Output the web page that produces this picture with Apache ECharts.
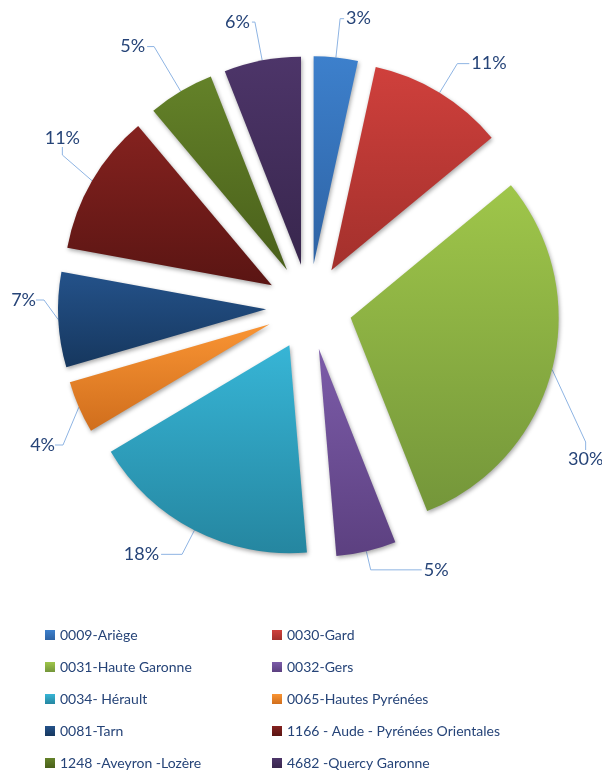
<!DOCTYPE html>
<html>
<head>
<meta charset="utf-8">
<style>
  html, body { margin: 0; padding: 0; background: #fff; }
  #chart { width: 602px; height: 771px; }
</style>
<script src="https://cdn.jsdelivr.net/npm/echarts@6/dist/echarts.min.js"></script>
</head>
<body>
<div id="chart"></div>
<script>
// sectors (share of the whole, in %)
const names = [
  '0009-Ariège', '0030-Gard', '0031-Haute Garonne', '0032-Gers', '0034- Hérault',
  '0065-Hautes Pyrénées', '0081-Tarn', '1166 - Aude - Pyrénées Orientales',
  '1248 -Aveyron -Lozère', '4682 -Quercy Garonne'
];
const values = [3.42, 10.58, 30.0, 4.65, 17.78, 4.06, 7.39, 11.0, 5.14, 5.97];

// gradient top / bottom colour of each slice
const topColors = ['#3d80cc', '#cf403c', '#9fc64a', '#7c5ca9', '#37b5d6', '#f99433', '#24528a', '#85221f', '#648229', '#4d3569'];
const bottomColors = ['#2e63a4', '#a3302c', '#74963a', '#5c4080', '#2586a0', '#d06e1d', '#16375e', '#5a1513', '#495f1a', '#38264d'];

const textColor = '#264478';

const CENTER = [309, 307];
const RADIUS = 208;
const EXPLODE = 43;

// leader line lengths [length, length2] per slice (label tuning)
const leader = {
  0: [39, 4], 1: [34, 12], 3: [19, 51], 4: [27, 21], 8: [52, 7], 9: [39, 3]
};
// labels that Excel moved off the radial line: [anchor x, centre y, align]
const movedLabels = {
  2: [568, 459, 'left'],
  5: [55, 445, 'right'],
  6: [36, 300, 'right'],
  7: [80, 138, 'right']
};

const chart = echarts.init(document.getElementById('chart'));

const sliceData = names.map((name, i) => ({
  name: name,
  value: values[i],
  selected: true,
  itemStyle: {
    color: new echarts.graphic.LinearGradient(0, 0, 0, 1, [
      { offset: 0, color: topColors[i] },
      { offset: 1, color: bottomColors[i] }
    ])
  }
}));

// invisible copy reaching the exploded outer edge, carries the labels
const labelData = names.map((name, i) => {
  const item = { name: name, value: values[i] };
  if (leader[i]) {
    item.labelLine = { length: leader[i][0], length2: leader[i][1] };
  }
  return item;
});

function legendFor(list, left) {
  return {
    data: list,
    orient: 'vertical',
    left: left,
    top: 627,
    height: 200,
    padding: 0,
    icon: 'rect',
    itemWidth: 10,
    itemHeight: 10,
    itemGap: 16,
    selectedMode: false,
    textStyle: {
      fontFamily: 'Lato',
      fontSize: 14,
      lineHeight: 16,
      color: textColor
    }
  };
}

chart.setOption({
  animation: false,
  legend: [
    legendFor(names.filter((n, i) => i % 2 === 0), 45),
    legendFor(names.filter((n, i) => i % 2 === 1), 272)
  ],
  series: [{
    type: 'pie',
    center: CENTER,
    radius: RADIUS,
    startAngle: 90,
    clockwise: true,
    selectedMode: 'multiple',
    selectedOffset: EXPLODE,
    emphasis: { disabled: true },
    itemStyle: {
      shadowBlur: 4,
      shadowOffsetX: 1,
      shadowOffsetY: 2,
      shadowColor: 'rgba(0,0,0,0.35)'
    },
    label: { show: false },
    labelLine: { show: false },
    data: sliceData
  }, {
    type: 'pie',
    center: CENTER,
    radius: RADIUS + EXPLODE,
    startAngle: 90,
    clockwise: true,
    silent: true,
    selectedMode: false,
    percentPrecision: 0,
    avoidLabelOverlap: false,
    emphasis: { disabled: true },
    itemStyle: { color: 'rgba(0,0,0,0)' },
    label: {
      show: true,
      position: 'outside',
      formatter: '{d}%',
      fontFamily: 'Lato',
      fontSize: 18,
      color: textColor,
      distanceToLabelLine: 2
    },
    labelLine: {
      show: true,
      length: 28,
      length2: 8,
      lineStyle: { color: '#8eb4e3', width: 1 }
    },
    labelLayout: function (p) {
      const m = movedLabels[p.dataIndex];
      if (!m) return {};
      return { x: m[0], y: m[1], align: m[2], verticalAlign: 'middle' };
    },
    data: labelData
  }]
});
</script>
</body>
</html>
